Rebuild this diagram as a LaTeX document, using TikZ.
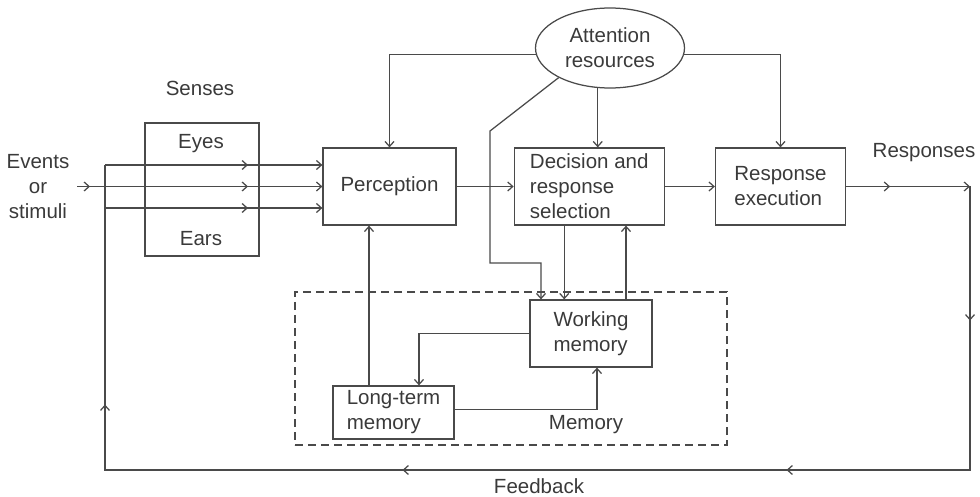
\documentclass[tikz,border=0pt]{standalone}
\usepackage{fontspec}
\setmainfont{Liberation Sans}
\usetikzlibrary{arrows.meta,positioning,shapes.geometric,decorations.markings}
\usepackage{xcolor}
\definecolor{ink}{HTML}{4A4A4A}
\definecolor{txt}{HTML}{3A3A3A}

\begin{document}
\begin{tikzpicture}[
      x=1pt, y=-1pt,
      every node/.style={text=txt, font=\fontsize{20.5}{25}\selectfont},
      wire/.style={draw=ink, line width=1.25pt},
      box/.style={
        wire, align=left, inner sep=0pt, minimum height=77pt
      },
      arrow/.style={wire, -{Straight Barb[length=5pt,width=9pt]}},
      midarrow/.style={postaction={decorate, decoration={markings,
        mark=at position #1 with {\arrow{Straight Barb[length=5pt,width=9pt]}}}}}
    ]
    \useasboundingbox (0,0) rectangle (980,497);

    % memory group
    \node[wire, dash pattern=on 8pt off 5pt, minimum width=432pt, minimum height=153pt] (memory) at (511,368.5) {};
    \node (memorylabel) at (586,425) {Memory};

    % senses
    \node (senseslabel) at (200,88) {Senses};
    \node[box, minimum width=114pt, minimum height=133pt] (senses) at (202,189.5) {};
    \node (eyes) at (201,144) {Eyes};
    \node (ears) at (201,239) {Ears};
    \node[align=center] (events) at (38,187) {Events\\or\\stimuli};

    % main stages
    \node[box, minimum width=133pt] (perception) at (389.5,186.5) {Perception};
    \node[box, minimum width=150pt, right=57pt of perception] (decision) {Decision and\\response\\selection};
    \node[box, minimum width=130pt, right=50pt of decision] (execution) {Response\\execution};
    \node[wire, ellipse, minimum width=149pt, minimum height=80pt, inner sep=0pt, align=center] (attention) at (610,48) {Attention\\resources};
    \node[box, minimum width=122pt, minimum height=67pt] (wm) at (591,333.5) {Working\\memory};
    \node[box, minimum width=121pt, minimum height=53pt] (ltm) at (393.5,412.5) {Long-term\\memory};

    \node (responses) at (924,153) {Responses};
    \node (feedback) at (539,486) {Feedback};

    \coordinate (in) at (77,186.5);
    \coordinate (fbtop) at (105,165);
    \coordinate (fbbot) at (105,208);
    \coordinate (out) at (970,186.5);
    \coordinate (fbright) at (970,470);
    \coordinate (fbleft) at (105,470);
    \coordinate (bend1) at (490,131);
    \coordinate (bend2) at (490,263);

    % inputs
    \draw[arrow, midarrow=13pt, midarrow=171pt] (in) -- (perception.west |- in);
    \draw[arrow, midarrow=143pt] (fbtop) -- (perception.west |- fbtop);
    \draw[arrow, midarrow=143pt] (fbbot) -- (perception.west |- fbbot);

    % stage to stage
    \draw[arrow] (perception) -- (decision);
    \draw[arrow] (decision) -- (execution);
    \draw[arrow, midarrow=44pt] (execution) -- (out);

    % feedback loop
    \draw[wire, midarrow=134pt, midarrow=467pt, midarrow=851pt, midarrow=1214pt]
      (out) -- (fbright) -- (fbleft) -- (fbtop);

    % attention
    \draw[arrow] (attention.185) -| (perception.north);
    \draw[arrow] (attention.-5) -| (execution.north);
    \draw[arrow] (attention.253) -- (attention.253 |- decision.north);
    \draw[arrow] (attention.210) -- (bend1) -- (bend2) -| ([xshift=-50pt]wm.north);

    % memory links
    \draw[arrow] ([xshift=-25pt]decision.south) -- ([xshift=-25pt]decision.south |- wm.north);
    \draw[arrow] ([xshift=35pt]wm.north) -- ([xshift=35pt]wm.north |- decision.south);
    \draw[arrow] ([xshift=-24.5pt]ltm.north) -- ([xshift=-24.5pt]ltm.north |- perception.south);
    \draw[arrow] (wm.west) -| ([xshift=25.5pt]ltm.north);
    \draw[arrow] ([yshift=3pt]ltm.east) -| ([xshift=6pt]wm.south);
  \end{tikzpicture}
\end{document}
